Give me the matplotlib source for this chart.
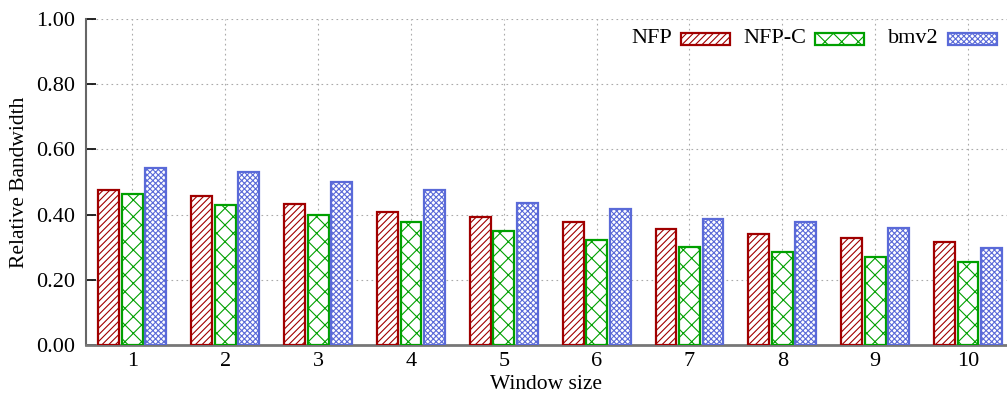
import matplotlib
matplotlib.use("Agg")
import matplotlib.pyplot as plt
import numpy as np
from matplotlib.patches import Rectangle

windows = ["1", "2", "3", "4", "5", "6", "7", "8", "9", "10"]
nfp = [0.475, 0.457, 0.432, 0.407, 0.394, 0.377, 0.357, 0.341, 0.328, 0.316]
nfp_c = [0.462, 0.429, 0.398, 0.376, 0.349, 0.322, 0.300, 0.285, 0.269, 0.254]
bmv2 = [0.542, 0.531, 0.500, 0.475, 0.435, 0.416, 0.388, 0.378, 0.360, 0.297]
series_names = ["NFP", "NFP-C", "bmv2"]
y_ticks = [0.0, 0.2, 0.4, 0.6, 0.8, 1.0]

colors = ["#a00000", "#00a000", "#5a6ad8"]
hatches = ["/////", "xx", "xxxxxx"]

plt.rcParams["font.family"] = ["Liberation Serif", "DejaVu Serif"]
plt.rcParams["hatch.linewidth"] = 0.8

fig = plt.figure(figsize=(10.07, 3.96), dpi=100)
ax = fig.add_axes([86 / 1007, 51 / 396, 1 - 86 / 1007, 326 / 396])

x = np.arange(1, len(windows) + 1)
width = 0.225
offset = 0.253
for i, vals in enumerate([nfp, nfp_c, bmv2]):
    ax.bar(x + (i - 1) * offset, vals, width, facecolor="white",
           edgecolor=colors[i], hatch=hatches[i], linewidth=1.6, zorder=3)

ax.set_xlim(0.5, 10.42)
ax.set_ylim(0, 1.0)
ax.set_xticks(x)
ax.set_xticklabels(windows)
ax.set_yticks(y_ticks)
ax.set_yticklabels([f"{v:.2f}" for v in y_ticks])
ax.tick_params(axis="x", length=0, labelsize=16, pad=5)
ax.tick_params(axis="y", direction="in", length=7, width=1.2, labelsize=16, pad=8)

ax.grid(True, linestyle=(0, (1.5, 3)), color="#aaaaaa", linewidth=0.8, zorder=0)
for side in ["top", "right"]:
    ax.spines[side].set_visible(False)
ax.spines["left"].set_color("#666666")
ax.spines["left"].set_linewidth(1.5)
ax.spines["bottom"].set_color("#777777")
ax.spines["bottom"].set_linewidth(2)

ax.set_xlabel("Window size", fontsize=15.5, labelpad=3)
ax.set_ylabel("Relative Bandwidth", fontsize=15.5, labelpad=5)

# legend: label text followed by a hatched swatch
def px(xp, yp):
    return ((xp - 86) / (1007 - 86), (345 - yp) / 326)

swatch_x = [681, 815, 948]
for name, sx, c, h in zip(series_names, swatch_x, colors, hatches):
    x0, y0 = px(sx, 44.5)
    x1, y1 = px(sx + 49, 32.5)
    ax.add_patch(Rectangle((x0, y0), x1 - x0, y1 - y0, transform=ax.transAxes,
                           facecolor="white", edgecolor=c, hatch=h,
                           linewidth=1.6, zorder=5, clip_on=False))
    tx, ty = px(sx - 9, 38.5)
    ax.text(tx, ty, name, transform=ax.transAxes, ha="right", va="center",
            fontsize=16, zorder=5)

fig.savefig("out.png", dpi=100)
